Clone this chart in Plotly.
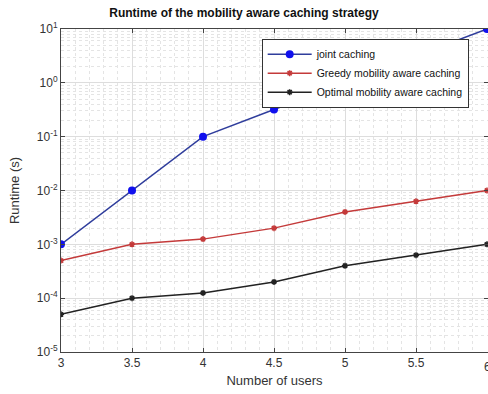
import plotly.graph_objects as go

users = [3, 3.5, 4, 4.5, 5, 5.5, 6]
joint = [1e-3, 1e-2, 1e-1, 0.32, 1.0, 3.2, 10.0]
greedy = [5e-4, 1e-3, 1.25e-3, 2e-3, 4e-3, 6.3e-3, 1e-2]
optimal = [5e-5, 1e-4, 1.25e-4, 2e-4, 4e-4, 6.3e-4, 1e-3]

y_tickvals = [1e-5, 1e-4, 1e-3, 1e-2, 1e-1, 1, 10]
y_ticktext = ["10<sup>-5</sup>", "10<sup>-4</sup>", "10<sup>-3</sup>", "10<sup>-2</sup>",
              "10<sup>-1</sup>", "10<sup>0</sup>", "10<sup>1</sup>"]
x_tickvals = [3, 3.5, 4, 4.5, 5, 5.5, 6]
x_ticktext = ["3", "3.5", "4", "4.5", "5", "5.5", "6"]

font_family = "Liberation Sans, Arial, sans-serif"

fig = go.Figure()
fig.add_trace(go.Scatter(
    x=users, y=joint, name="joint caching", mode="lines+markers",
    line=dict(color="#2f3d9c", width=1.5),
    marker=dict(symbol="circle", size=8, color="#1010ee"),
))
fig.add_trace(go.Scatter(
    x=users, y=greedy, name="Greedy mobility aware caching", mode="lines+markers",
    line=dict(color="#c43a3a", width=1.5),
    marker=dict(symbol="asterisk-open", size=5, line=dict(color="#a02020", width=1.5)),
))
fig.add_trace(go.Scatter(
    x=users, y=optimal, name="Optimal mobility aware caching", mode="lines+markers",
    line=dict(color="#222222", width=1.5),
    marker=dict(symbol="asterisk-open", size=5, line=dict(color="#111111", width=1.5)),
))

fig.update_layout(
    width=488, height=394,
    margin=dict(l=61, r=0, t=29, b=42),
    paper_bgcolor="white", plot_bgcolor="white",
    font=dict(family=font_family, size=12, color="#333333"),
    title=dict(text="<b>Runtime of the mobility aware caching strategy</b>",
               x=0.5, xanchor="center", y=0.967, yanchor="middle",
               font=dict(size=12, color="#111111")),
    showlegend=True,
    legend=dict(x=0.47, y=0.97, xanchor="left", yanchor="top",
                bgcolor="white", bordercolor="#333333", borderwidth=1,
                font=dict(size=10.5, color="#111111"),
                tracegroupgap=0, itemwidth=44),
)

# the last x tick label sits on the right edge of the figure
fig.add_annotation(x=6, y=0, xref="x", yref="paper", yshift=-6,
                   text=x_ticktext[-1], showarrow=False, xanchor="center", yanchor="top",
                   font=dict(size=12, color="#333333"))

fig.update_xaxes(
    range=[3, 6 + 3 / 427], tickvals=x_tickvals[:-1], ticktext=x_ticktext[:-1],
    showgrid=True, gridcolor="#dddddd", gridwidth=1,
    minor=dict(dtick=0.1, showgrid=True, gridcolor="#e4e4e4", griddash="dot", ticks=""),
    showline=True, linecolor="#444444", mirror="ticks",
    ticks="inside", ticklen=4, tickcolor="#444444",
    zeroline=False,
    title=dict(text="Number of users", font=dict(size=13, color="#333333"), standoff=6),
)
fig.update_yaxes(
    type="log", range=[-5, 1], tickvals=y_tickvals, ticktext=y_ticktext,
    showgrid=True, gridcolor="#dddddd", gridwidth=1,
    minor=dict(dtick="D1", showgrid=True, gridcolor="#e4e4e4", griddash="dot", ticks=""),
    showline=True, linecolor="#444444", mirror="ticks",
    ticks="inside", ticklen=4, tickcolor="#444444",
    zeroline=False,
    title=dict(text="Runtime (s)", font=dict(size=13, color="#333333"), standoff=14),
)

fig.write_html("out.html")
